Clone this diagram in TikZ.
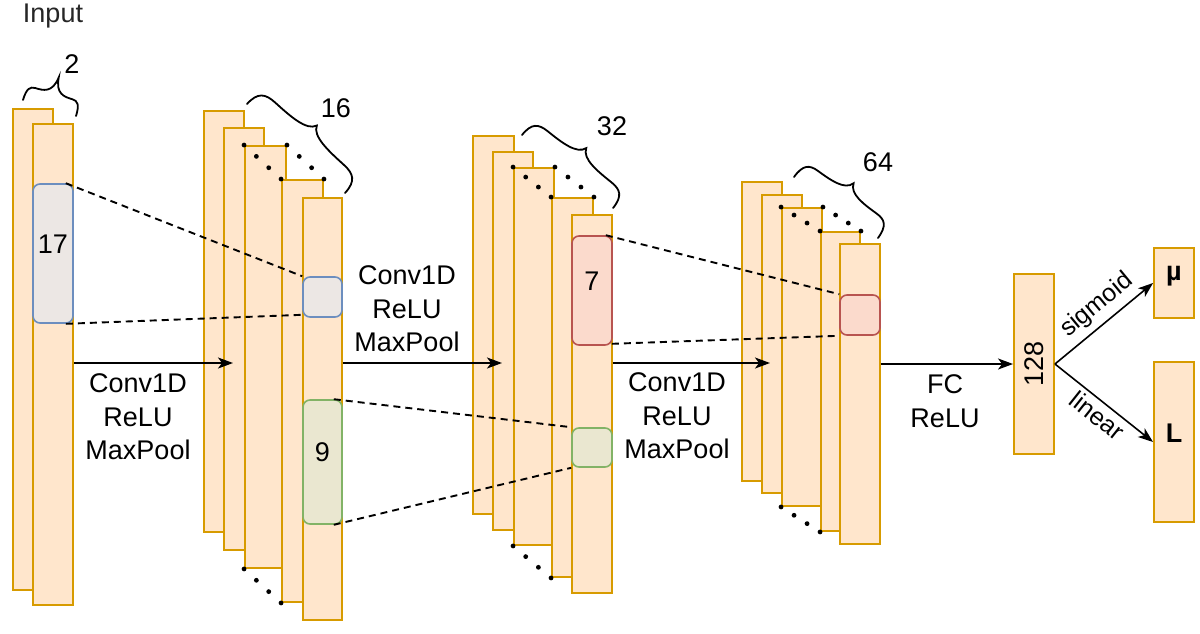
\documentclass[tikz,border=0pt]{standalone}
\usepackage{fontspec}
\setmainfont{Liberation Sans}
\usetikzlibrary{fit,calc,arrows.meta}
\definecolor{ofill}{HTML}{FFE6CC}
\definecolor{ostroke}{HTML}{D79B00}
\definecolor{bfill}{HTML}{ECE7E4}
\definecolor{bstroke}{HTML}{6C8EBF}
\definecolor{gfill}{HTML}{EAE7D0}
\definecolor{gstroke}{HTML}{82B366}
\definecolor{rfill}{HTML}{FBDACC}
\definecolor{rstroke}{HTML}{B85450}
\newcommand\mydots[2]{\foreach \t in {0,0.333,0.667,1}{\fill ($(#1)!\t!(#2)$) circle (2.4pt);}}
% curly brace: #1 start point, #2 angle, #3 length, #4 body offset, #5 cusp offset
\newcommand\curly[5]{%
  \begin{scope}[shift={#1}, rotate=#2, x=1pt, y=1pt]
    \draw[bracel] (0,0) .. controls (0,0.8*#4) and (0.05*#3,#4) .. (0.15*#3,#4)
      .. controls (0.3*#3,#4) and (0.47*#3,#4) .. (0.5*#3,#5)
      .. controls (0.53*#3,#4) and (0.7*#3,#4) .. (0.85*#3,#4)
      .. controls (0.95*#3,#4) and (#3,0.8*#4) .. (#3,0);
  \end{scope}}
\begin{document}
\begin{tikzpicture}[x=1pt,y=-1pt,
  layer/.style={draw=ostroke, fill=ofill, line width=1.9pt, inner sep=0pt},
  filt/.style={line width=1.6pt, rounded corners=7pt, inner sep=0pt, font=\fontsize{27}{34}\selectfont},
  bluef/.style={filt, draw=bstroke, fill=bfill},
  greenf/.style={filt, draw=gstroke, fill=gfill},
  redf/.style={filt, draw=rstroke, fill=rfill},
  dashln/.style={line width=1.9pt, dash pattern=on 7pt off 5pt},
  arr/.style={line width=1.6pt, -{Stealth[length=15pt,width=11pt,inset=4pt]}},
  lbl/.style={font=\fontsize{27}{33.5}\selectfont, align=center, inner sep=0pt},
  slbl/.style={font=\fontsize{25}{30}\selectfont, inner sep=3pt},
  bracel/.style={line width=1.8pt, line cap=round},
]
\useasboundingbox (0,0) rectangle (1200,633);

% Input stack
\node[layer, fit={(13,109) (53,590)}] (in1) {};
\node[layer, fit={(33,124) (73,605)}] (in2) {};
\node[bluef, fit={(33,184) (73,323)}] (f17) {17};

% 16 stack
\node[layer, fit={(204,111) (244,532)}] (a1) {};
\node[layer, fit={(224,128) (264,550)}] (a2) {};
\node[layer, fit={(245,146) (286,568)}] (a3) {};
\node[layer, fit={(282,180) (323,602)}] (a4) {};
\node[layer, fit={(303,198) (342,620)}] (a5) {};
\node[bluef, fit={(303,277) (342,317)}] (fa) {};
\node[greenf, fit={(303,400) (342,524)}] (f9) {9};
\mydots{a3.north west}{a4.north west}
\mydots{a3.north east}{a4.north east}
\mydots{a3.south west}{a4.south west}

% 32 stack
\node[layer, fit={(473,136) (514,514)}] (b1) {};
\node[layer, fit={(493,152) (533,530)}] (b2) {};
\node[layer, fit={(514,168) (554,545)}] (b3) {};
\node[layer, fit={(552,198) (593,577)}] (b4) {};
\node[layer, fit={(572,215) (612,593)}] (b5) {};
\node[redf, fit={(572,236) (612,345)}] (f7) {7};
\node[greenf, fit={(572,428) (612,467)}] (fb) {};
\mydots{b3.north west}{b4.north west}
\mydots{b3.north east}{b4.north east}
\mydots{b3.south west}{b4.south west}

% 64 stack
\node[layer, fit={(742,182) (782,481)}] (c1) {};
\node[layer, fit={(762,195) (802,493)}] (c2) {};
\node[layer, fit={(782,208) (822,506)}] (c3) {};
\node[layer, fit={(821,232) (860,531)}] (c4) {};
\node[layer, fit={(840,244) (880,544)}] (c5) {};
\node[redf, fit={(840,295) (880,335)}] (fc) {};
\mydots{c3.north west}{c4.north west}
\mydots{c3.north east}{c4.north east}
\mydots{c3.south west}{c4.south west}

% dense + outputs
\node[layer, rotate=90, minimum width=180pt, minimum height=40pt, font=\fontsize{27}{33}\selectfont] (h128) at (1034,364) {128};
\node[layer, fit={(1154,248) (1194,318)}, font=\fontsize{27}{33}\selectfont\bfseries] (mu) {µ};
\node[layer, fit={(1154,362) (1194,522)}, font=\fontsize{27}{33}\selectfont\bfseries] (L) {L};

% dashed receptive-field lines
\draw[dashln] ([xshift=-8pt]f17.north east) -- (fa.north west);
\draw[dashln] ([xshift=-8pt]f17.south east) -- ([yshift=3pt]fa.south west);
\draw[dashln] ([xshift=-9pt]f9.north east) -- (fb.north west);
\draw[dashln] ([xshift=-9pt]f9.south east) -- (fb.south west);
\draw[dashln] ([xshift=-7pt]f7.north east) -- (fc.north west);
\draw[dashln] ([xshift=-1pt,yshift=2pt]f7.south east) -- (fc.south west);

% arrows
\coordinate (e1) at (233,363);
\coordinate (e2) at (502,363);
\coordinate (e3) at (770,363);
\draw[arr] (in2.east |- e1) -- (e1);
\draw[arr] (a5.east |- e2) -- (e2);
\draw[arr] (b5.east |- e3) -- (e3);
\draw[arr] (c5.east |- h128) -- (h128.north);
\draw[arr] (h128.south) -- node[slbl, sloped, pos=0.55, above=3pt] {sigmoid} (mu.west);
\draw[arr] (h128.south) -- node[slbl, sloped, pos=0.52, below=1pt] {linear} (L.west);

% labels
\node[lbl] (t1) at (138,417) {Conv1D\\ReLU\\MaxPool};
\node[lbl] (t2) at (407,309) {Conv1D\\ReLU\\MaxPool};
\node[lbl] (t3) at (677,416) {Conv1D\\ReLU\\MaxPool};
\node[lbl] (t4) at (945,401) {FC\\ReLU};
\node[lbl, text=black!85] (inp) at (53,16) {Input};

% braces
\curly{(23,100)}{-16.8}{55.4}{15}{32}
\curly{(247,104)}{-42.2}{132.4}{20}{31}
\curly{(522,135)}{-38.7}{116.7}{19}{30}
\curly{(794,177)}{-36.0}{103.8}{19}{30}
\node[lbl] (n2) at (72,64) {2};
\node[lbl] (n16) at (336,108) {16};
\node[lbl] (n32) at (612,126) {32};
\node[lbl] (n64) at (878,162) {64};
\end{tikzpicture}
\end{document}
